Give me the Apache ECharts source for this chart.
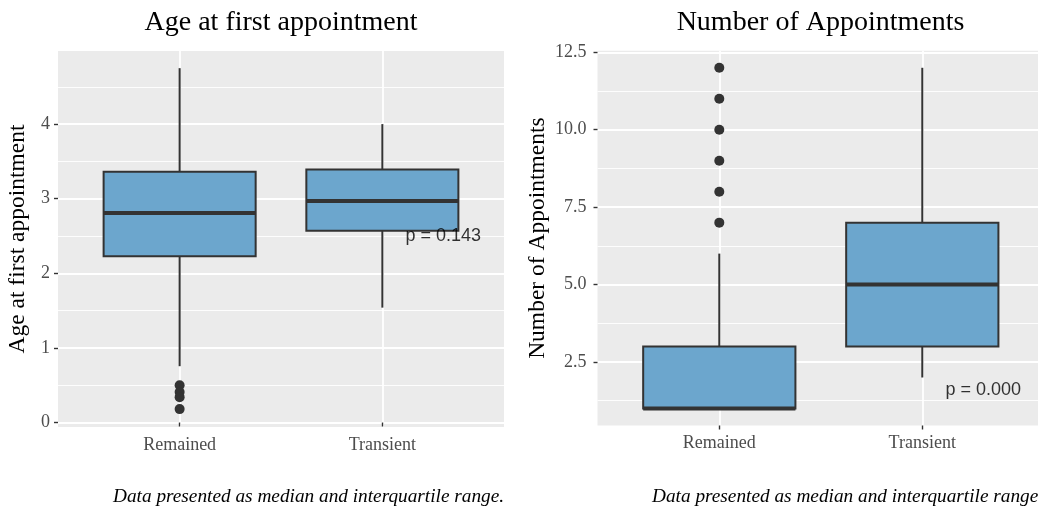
<!DOCTYPE html>
<html>
<head>
<meta charset="utf-8">
<script src="https://cdn.jsdelivr.net/npm/echarts@6/dist/echarts.min.js"></script>
<style>html,body{margin:0;padding:0;background:#fff;}#c{width:1038px;height:508px;}</style>
</head>
<body>
<div id="c"></div>
<script>
// ---- data ----
const categories = ['Remained', 'Transient'];
// [lower whisker, Q1, median, Q3, upper whisker]
const ageStats = [[0.755, 2.23, 2.81, 3.36, 4.75], [1.54, 2.57, 2.97, 3.39, 4.00]];
const ageOutliersRemained = [0.50, 0.41, 0.34, 0.18];
const apptStats = [[1, 1, 1, 3, 6], [2, 3, 5, 7, 12]];
const apptOutliersRemained = [7, 8, 9, 10, 11, 12];
const ageTicks = [0, 1, 2, 3, 4];
const ageMinor = [0.5, 1.5, 2.5, 3.5, 4.5];
const apptTicks = [2.5, 5.0, 7.5, 10.0, 12.5];
const apptMinor = [1.25, 3.75, 6.25, 8.75, 11.25];
const pLabels = ['p = 0.143', 'p = 0.000'];
const pPositions = [[2.3, 2.5], [2.3, 1.6]];
const titles = ['Age at first appointment', 'Number of Appointments'];
const yNames = ['Age at first appointment', 'Number of Appointments'];
const caption = 'Data presented as median and interquartile range.';

// ---- chart ----
const chart = echarts.init(document.getElementById('c'));
const SERIF = '"Liberation Serif", "DejaVu Serif", serif';
const SANS = '"Liberation Sans", Arial, sans-serif';
const FILL = '#6CA6CD';
const DARK = '#333333';

// right panel is cropped by the picture edge: its x range stops early
const grids = [
  {left: 58, top: 51, width: 446, height: 376},
  {left: 597.5, top: 50.75, width: 440.5, height: 374.75}
];
const xRanges = [[0.4, 2.6], [0.4, 2.57]];
const yRanges = [[-0.06, 4.98], [0.45, 12.55]];
const tickSets = [ageTicks, apptTicks];
const minorSets = [ageMinor, apptMinor];
const statSets = [ageStats, apptStats];
const outlierSets = [ageOutliersRemained, apptOutliersRemained];

function renderBox(params, api) {
  const x = api.value(0);
  const lo = api.coord([x, api.value(1)]);
  const q1 = api.coord([x, api.value(2)]);
  const med = api.coord([x, api.value(3)]);
  const q3 = api.coord([x, api.value(4)]);
  const hi = api.coord([x, api.value(5)]);
  const bw = api.size([0.75, 0])[0];
  const cx = q1[0];
  return {
    type: 'group',
    children: [
      {type: 'line', shape: {x1: cx, y1: hi[1], x2: cx, y2: q3[1]}, style: {stroke: DARK, lineWidth: 2}},
      {type: 'line', shape: {x1: cx, y1: q1[1], x2: cx, y2: lo[1]}, style: {stroke: DARK, lineWidth: 2}},
      {type: 'rect', shape: {x: cx - bw / 2, y: q3[1], width: bw, height: q1[1] - q3[1]},
       style: {fill: FILL, stroke: DARK, lineWidth: 2}},
      {type: 'line', shape: {x1: cx - bw / 2, y1: med[1], x2: cx + bw / 2, y2: med[1]},
       style: {stroke: DARK, lineWidth: 4}}
    ]
  };
}

const xAxes = [], yAxes = [], series = [];
for (let i = 0; i < 2; i++) {
  xAxes.push({
    type: 'value', gridIndex: i, min: xRanges[i][0], max: xRanges[i][1],
    axisLine: {show: false},
    splitLine: {show: false},
    axisTick: {show: true, customValues: [1, 2], length: 4, lineStyle: {color: DARK, width: 1.4}},
    axisLabel: {customValues: [1, 2], formatter: v => categories[Math.round(v) - 1],
      color: '#4D4D4D', fontFamily: SERIF, fontSize: 18, margin: 9}
  });
  yAxes.push({
    type: 'value', gridIndex: i, min: yRanges[i][0], max: yRanges[i][1],
    name: yNames[i], nameLocation: 'middle', nameGap: i === 0 ? 28 : 48, nameRotate: 90,
    nameTextStyle: {fontFamily: SERIF, fontSize: 23.5, color: '#000'},
    axisLine: {show: false},
    splitLine: {show: false},
    axisTick: {show: true, customValues: tickSets[i], length: 4, lineStyle: {color: DARK, width: 1.4}},
    axisLabel: {customValues: tickSets[i], formatter: v => (i === 0 ? String(v) : v.toFixed(1)),
      color: '#4D4D4D', fontFamily: SERIF, fontSize: 18, margin: i === 0 ? 8 : 11}
  });
  const ml = [];
  tickSets[i].forEach(v => ml.push({yAxis: v, lineStyle: {width: 1.8}}));
  minorSets[i].forEach(v => ml.push({yAxis: v, lineStyle: {width: 0.9}}));
  [1, 2].forEach(v => ml.push({xAxis: v, lineStyle: {width: 1.8}}));
  series.push({
    type: 'line', xAxisIndex: i, yAxisIndex: i, data: [], z: 0, silent: true,
    markLine: {silent: true, z: 0, symbol: 'none', label: {show: false}, animation: false,
      lineStyle: {color: '#FFFFFF', type: 'solid'}, data: ml}
  });
  series.push({
    type: 'custom', xAxisIndex: i, yAxisIndex: i, z: 2, silent: true,
    renderItem: renderBox,
    encode: {x: 0, y: [1, 2, 3, 4, 5]},
    data: statSets[i].map((s, k) => [k + 1].concat(s))
  });
  series.push({
    type: 'scatter', xAxisIndex: i, yAxisIndex: i, z: 3, silent: true,
    symbolSize: 10, itemStyle: {color: DARK, opacity: 1},
    data: outlierSets[i].map(v => [1, v])
  });
  series.push({
    type: 'scatter', xAxisIndex: i, yAxisIndex: i, z: 5, silent: true,
    symbolSize: 0,
    label: {show: true, position: 'inside', formatter: pLabels[i],
      fontFamily: SANS, fontSize: 18, color: '#000'},
    data: [pPositions[i]]
  });
}

chart.setOption({
  animation: false,
  backgroundColor: '#FFFFFF',
  grid: grids.map(g => Object.assign({show: true, backgroundColor: '#EBEBEB', borderWidth: 0}, g)),
  xAxis: xAxes,
  yAxis: yAxes,
  series: series,
  graphic: [
    {type: 'text', x: 281, y: 23, style: {text: titles[0], align: 'center', verticalAlign: 'middle',
      font: '28px ' + SERIF, fill: '#000'}},
    {type: 'text', x: 820.5, y: 23, style: {text: titles[1], align: 'center', verticalAlign: 'middle',
      font: '28px ' + SERIF, fill: '#000'}},
    {type: 'text', x: 113, y: 497, style: {text: caption, align: 'left', verticalAlign: 'middle',
      font: 'italic 19.3px ' + SERIF, fill: '#000'}},
    {type: 'text', x: 652, y: 497, style: {text: caption, align: 'left', verticalAlign: 'middle',
      font: 'italic 19.3px ' + SERIF, fill: '#000'}}
  ]
});
</script>
</body>
</html>
